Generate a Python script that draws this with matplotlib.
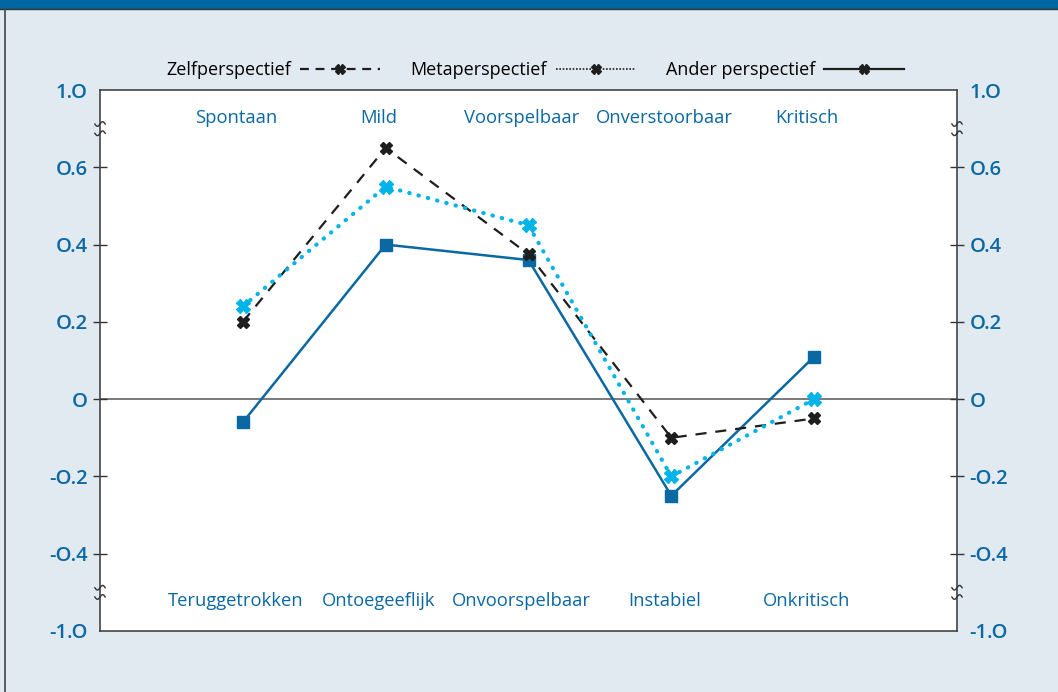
import numpy as np
import matplotlib.pyplot as plt
from matplotlib.lines import Line2D
from matplotlib.patches import Rectangle

# data
top_labels = ["Spontaan", "Mild", "Voorspelbaar", "Onverstoorbaar", "Kritisch"]
bottom_labels = ["Teruggetrokken", "Ontoegeeflijk", "Onvoorspelbaar", "Instabiel", "Onkritisch"]
zelf = [0.20, 0.65, 0.375, -0.10, -0.05]
meta = [0.24, 0.55, 0.45, -0.20, 0.00]
ander = [-0.06, 0.40, 0.36, -0.25, 0.11]
tick_values = [0.8, 0.6, 0.4, 0.2, 0.0, -0.2, -0.4, -0.6]
tick_labels = ["1.O", "O.6", "O.4", "O.2", "O", "-O.2", "-O.4", "-1.O"]

BLUE = "#0a68a3"
CYAN = "#00b4ea"
BLACK = "#1e1e1e"
BG = "#e1e9f1"

plt.rcParams['font.family'] = ['Open Sans', 'DejaVu Sans']

fig = plt.figure(figsize=(10.58, 6.92), dpi=100, facecolor=BG)
# top band and left border
fig.patches.append(Rectangle((0, 1 - 9 / 692), 1, 9 / 692, transform=fig.transFigure,
                             facecolor="#0067a0", edgecolor="none", zorder=0))
fig.lines.append(Line2D([0, 1], [1 - 9 / 692] * 2, transform=fig.transFigure, color="#333333", lw=1))
fig.lines.append(Line2D([5 / 1058] * 2, [0, 1 - 9 / 692], transform=fig.transFigure, color="#444444", lw=1.2))

ax = fig.add_axes([100 / 1058, 1 - 631 / 692, 857 / 1058, 541 / 692])
ax.set_facecolor("white")
x = np.arange(1, len(zelf) + 1)

ax.axhline(0, color="#7a7a7a", lw=1.4, zorder=1)
ax.plot(x, ander, color=BLUE, lw=1.8, marker="s", ms=8, zorder=3)
ax.plot(x, zelf, color=BLACK, lw=1.6, ls=(0, (5, 4)), marker="X", ms=9,
        mec=BLACK, mfc=BLACK, zorder=4)
ax.plot(x, meta, color=CYAN, lw=3, ls=(0, (0.1, 2.2)), dash_capstyle="round",
        marker="X", ms=10, mec=CYAN, mfc=CYAN, zorder=5)

for xi, t, b in zip(x, top_labels, bottom_labels):
    ax.text(xi - 0.05, 0.727, t, ha="center", va="center", color=BLUE, fontsize=13.2)
    ax.text(xi - 0.05, -0.522, b, ha="center", va="center", color=BLUE, fontsize=13.2)

ax.set_xlim(0, 6)
ax.set_ylim(-0.6, 0.8)
ax.set_xticks([])
ax.set_yticks(tick_values)
ax.set_yticklabels(tick_labels)
ax.tick_params(axis="y", which="both", direction="inout", length=10, width=1, color="#333333",
               labelcolor=BLUE, labelsize=14.5, left=True, right=True, labelleft=True, labelright=True, pad=4)
for lbl in ax.yaxis.get_majorticklabels():
    lbl.set_fontweight("semibold")
for tk in ax.yaxis.get_major_ticks():
    tk.label2.set_fontweight("semibold")
    # no tick marks at the broken ends
    if abs(abs(tk.get_loc() - 0.1) - 0.7) < 1e-6:
        tk.tick1line.set_visible(False)
        tk.tick2line.set_visible(False)
for s in ax.spines.values():
    s.set_color("#444444")
    s.set_linewidth(1.2)

# break marks on both spines
t = np.linspace(-1, 1, 20)
for yb in [0.70, -0.50]:
    for xa in [0, 1]:
        for off in [0.012, -0.012]:
            ax.plot(xa + t * 0.006, yb + off + 0.006 * np.sin(t * np.pi),
                    transform=ax.get_yaxis_transform(), color="#333333", lw=1,
                    clip_on=False, zorder=6)

handles = [
    Line2D([], [], color=BLACK, lw=1.6, ls=(0, (4, 3)), marker="X", ms=7, mfc=BLACK, mec=BLACK),
    Line2D([], [], color=BLACK, lw=1.2, ls=(0, (1, 1)), marker="X", ms=7, mfc=BLACK, mec=BLACK),
    Line2D([], [], color=BLACK, lw=1.6, marker="X", ms=7, mfc=BLACK, mec=BLACK),
]
leg = fig.legend(handles, ["Zelfperspectief", "Metaperspectief", "Ander perspectief"],
                 loc="center", bbox_to_anchor=(535 / 1058, 1 - 70 / 692), ncol=3,
                 markerfirst=False, frameon=False, fontsize=13, handlelength=4.4,
                 handletextpad=0.5, columnspacing=1.7)

fig.savefig("out.png", dpi=100, facecolor=BG)
